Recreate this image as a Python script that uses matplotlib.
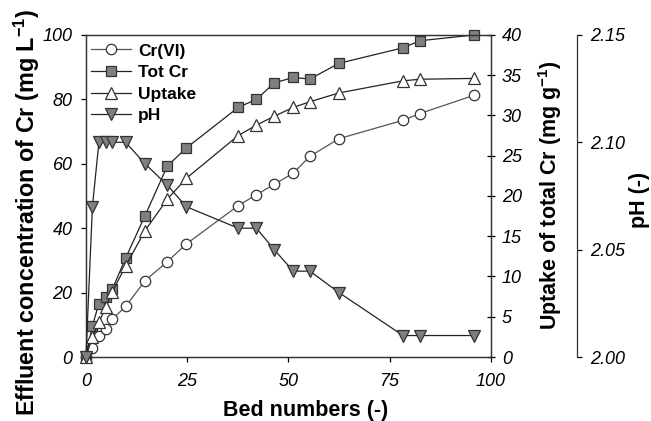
import matplotlib
matplotlib.use('Agg')
import matplotlib.pyplot as plt
from matplotlib.ticker import FormatStrFormatter

plt.rcParams['font.family'] = ['Liberation Sans', 'DejaVu Sans']
plt.rcParams['mathtext.default'] = 'regular'

# bed numbers
bed = [0, 1.6, 3.2, 4.9, 6.5, 9.8, 14.6, 20.1, 24.8, 37.6, 42.1, 46.5,
       51.2, 55.3, 62.5, 78.3, 82.5, 95.9]
cr6 = [0, 2.9, 6.5, 8.8, 11.7, 15.7, 23.7, 29.6, 35.1, 47.0, 50.4, 53.6,
       57.1, 62.3, 67.8, 73.5, 75.6, 81.3]
tot_cr = [0, 9.7, 16.6, 18.7, 21.0, 30.7, 43.9, 59.3, 64.9, 77.5, 80.0, 85.1,
          86.8, 86.3, 91.2, 96.0, 98.2, 100.0]
uptake = [0, 2.5, 4.3, 6.2, 8.1, 11.3, 15.7, 19.6, 22.2, 27.5, 28.8, 29.9,
          31.0, 31.7, 32.8, 34.3, 34.5, 34.6]
ph = [2.00, 2.07, 2.10, 2.10, 2.10, 2.10, 2.09, 2.08, 2.07, 2.06, 2.06, 2.05,
      2.04, 2.04, 2.03, 2.01, 2.01, 2.01]

fig = plt.figure(figsize=(6.51, 4.21), dpi=100)
ax = fig.add_axes([0.132, 0.152, 0.622, 0.765])
ax2 = ax.twinx()
ax3 = ax.twinx()

ms = 7.5
grey = '#7f7f7f'
l1, = ax.plot(bed, cr6, '-o', color='#555555', lw=0.9, ms=ms, mfc='white',
              mec='#333333', mew=0.9, clip_on=False, label='Cr(VI)')
l2, = ax.plot(bed, tot_cr, '-s', color='#222222', lw=0.9, ms=ms, mfc=grey,
              mec='#333333', mew=0.9, clip_on=False, label='Tot Cr')
l3, = ax2.plot(bed, uptake, '-^', color='#222222', lw=0.9, ms=ms + 0.5, mfc='white',
               mec='#333333', mew=0.9, clip_on=False, label='Uptake')
l4, = ax3.plot(bed, ph, '-v', color='#222222', lw=0.9, ms=ms + 0.5, mfc=grey,
               mec='#333333', mew=0.9, clip_on=False, label='pH')

ax.set_xlim(0, 100)
ax.set_ylim(0, 100)
ax.set_xticks([0, 25, 50, 75, 100])
ax.set_yticks([0, 20, 40, 60, 80, 100])
ax2.set_ylim(0, 40)
ax2.set_yticks(range(0, 41, 5))
ax3.set_ylim(2.00, 2.15)
ax3.set_yticks([2.00, 2.05, 2.10, 2.15])
ax3.yaxis.set_major_formatter(FormatStrFormatter('%.2f'))

ax3.spines['right'].set_position(('axes', 1.212))
for s in ['top', 'left', 'bottom']:
    ax3.spines[s].set_visible(False)
for a in (ax, ax2, ax3):
    a.tick_params(direction='out', length=3.6, width=0.9, labelsize=13, pad=6)
    for s in a.spines.values():
        s.set_linewidth(0.9)
        s.set_color('#333333')
    for lab in a.get_xticklabels() + a.get_yticklabels():
        lab.set_fontstyle('italic')
ax.tick_params(axis='x', pad=8)
ax2.tick_params(axis='y', direction='inout', length=6, pad=5)

lf = dict(fontsize=15.5, fontweight='bold', ha='center', va='center')
fig.text(0.469, 0.026, 'Bed numbers (-)', **lf)
fig.text(0.041, 0.496, 'Effluent concentration of Cr (mg L$^{-1}$)', rotation=90,
         **dict(lf, fontsize=16.8))
fig.text(0.845, 0.537, 'Uptake of total Cr (mg g$^{-1}$)', rotation=90, **lf)
fig.text(0.983, 0.525, 'pH (-)', rotation=90, **lf)

ax.legend(handles=[l1, l2, l3, l4], loc='upper left', frameon=False,
          prop={'weight': 'bold', 'size': 12.5}, bbox_to_anchor=(0.0, 0.99),
          handlelength=2.3, handletextpad=0.4, borderaxespad=0.0,
          borderpad=0.3, labelspacing=0.37)

fig.savefig('out.png', dpi=100)
